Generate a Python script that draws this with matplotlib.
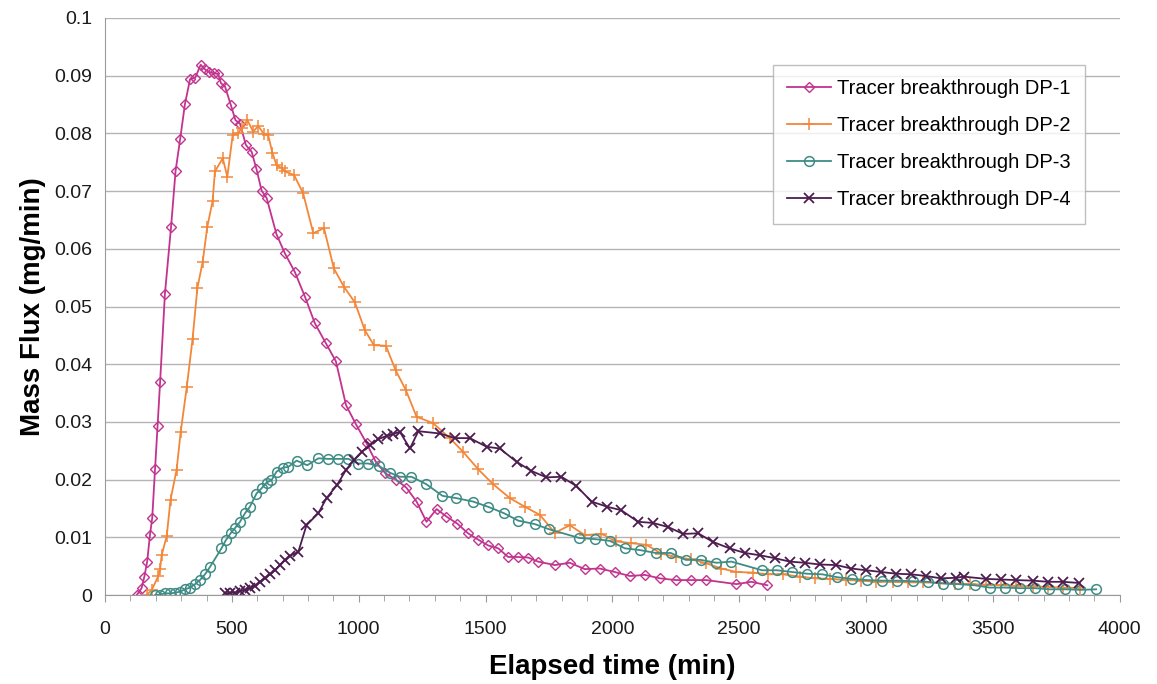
import matplotlib
matplotlib.use("Agg")
import matplotlib.pyplot as plt
from matplotlib.ticker import MultipleLocator, FixedLocator

plt.rcParams['font.family'] = ['Liberation Sans', 'DejaVu Sans']

# DP-1
t1 = [125, 144, 155, 166, 177, 186, 197, 207, 217, 236, 260, 278, 296, 315, 335, 355,
      377, 394, 411, 430, 446, 457, 473, 496, 514, 532, 555, 578, 597, 617, 637, 676,
      709, 748, 788, 827, 871, 910, 950, 989, 1031, 1066, 1105, 1147, 1188, 1228, 1267,
      1307, 1346, 1388, 1431, 1471, 1510, 1550, 1589, 1628, 1668, 1707, 1773, 1832,
      1891, 1950, 2009, 2069, 2128, 2187, 2250, 2311, 2370, 2489, 2548, 2611]
q1 = [0.0, 0.0012, 0.0032, 0.0058, 0.0104, 0.0134, 0.0218, 0.0293, 0.0369, 0.0522,
      0.0637, 0.0735, 0.079, 0.0851, 0.0894, 0.0896, 0.0919, 0.0911, 0.0906, 0.0904,
      0.0903, 0.0887, 0.0881, 0.0849, 0.0823, 0.0817, 0.078, 0.0768, 0.0738, 0.0701,
      0.0688, 0.0625, 0.0592, 0.056, 0.0517, 0.0471, 0.0436, 0.0405, 0.0329, 0.0296,
      0.0263, 0.0232, 0.0211, 0.02, 0.0186, 0.0162, 0.0127, 0.0149, 0.0136, 0.0124,
      0.0107, 0.0096, 0.0086, 0.0081, 0.0066, 0.0066, 0.0065, 0.0058, 0.0052, 0.0056,
      0.0045, 0.0046, 0.004, 0.0033, 0.0035, 0.0029, 0.0026, 0.0026, 0.0026, 0.0019,
      0.0023, 0.0017]

# DP-2
t2 = [164, 184, 210, 217, 223, 243, 258, 282, 298, 322, 345, 364, 385, 403, 424, 433,
      464, 482, 503, 525, 538, 561, 584, 604, 626, 643, 660, 676, 696, 709, 745, 781,
      821, 863, 902, 942, 985, 1024, 1060, 1107, 1145, 1186, 1228, 1293, 1359, 1412,
      1471, 1530, 1596, 1655, 1714, 1773, 1832, 1891, 1957, 2016, 2075, 2134, 2193,
      2252, 2311, 2370, 2430, 2489, 2554, 2613, 2672, 2738, 2797, 2857, 2922, 2981,
      3040, 3106, 3165, 3224, 3290, 3349, 3408, 3474, 3533, 3592, 3658, 3717, 3776, 3842]
q2 = [0.0, 0.0009, 0.0033, 0.0045, 0.0069, 0.0102, 0.0165, 0.0217, 0.0282, 0.036,
      0.0444, 0.0532, 0.0578, 0.0638, 0.0683, 0.0734, 0.0757, 0.0725, 0.0797, 0.08,
      0.0809, 0.0823, 0.0803, 0.0813, 0.0799, 0.0797, 0.0766, 0.0745, 0.074, 0.0734,
      0.0728, 0.0696, 0.0627, 0.0636, 0.0566, 0.0534, 0.0507, 0.0459, 0.0433, 0.0432,
      0.039, 0.0355, 0.0309, 0.0298, 0.0272, 0.0248, 0.0218, 0.0192, 0.0168, 0.0153,
      0.0139, 0.0108, 0.0121, 0.0104, 0.0106, 0.0093, 0.009, 0.0087, 0.0072, 0.0066,
      0.0062, 0.0055, 0.0046, 0.004, 0.0039, 0.0036, 0.0036, 0.0032, 0.0029, 0.0028,
      0.0026, 0.0025, 0.0023, 0.0023, 0.0022, 0.0022, 0.0021, 0.002, 0.0019, 0.0018,
      0.0017, 0.0016, 0.0015, 0.0014, 0.0013, 0.0012]

# DP-3
t3 = [197, 217, 236, 256, 276, 296, 315, 335, 355, 374, 394, 414, 459, 476, 495, 512,
      532, 552, 571, 597, 617, 637, 656, 676, 702, 722, 755, 797, 841, 880, 919, 959,
      998, 1037, 1078, 1123, 1162, 1208, 1267, 1330, 1385, 1451, 1510, 1572, 1629, 1694,
      1751, 1869, 1931, 1990, 2049, 2108, 2171, 2230, 2289, 2348, 2410, 2469, 2590, 2649,
      2708, 2768, 2827, 2886, 2946, 3005, 3064, 3123, 3185, 3244, 3303, 3361, 3428,
      3487, 3546, 3605, 3664, 3723, 3785, 3844, 3907]
q3 = [0.0, 0.0001, 0.0003, 0.0003, 0.0004, 0.0006, 0.001, 0.0013, 0.0019, 0.0026,
      0.0036, 0.0049, 0.0081, 0.0095, 0.0107, 0.0116, 0.0127, 0.0142, 0.0153, 0.0176,
      0.0185, 0.0195, 0.0199, 0.0214, 0.0221, 0.0222, 0.0233, 0.0225, 0.0237, 0.0236,
      0.0236, 0.0236, 0.0228, 0.0228, 0.0224, 0.0212, 0.0205, 0.0205, 0.0192, 0.0172,
      0.0168, 0.0162, 0.0153, 0.0142, 0.0129, 0.0123, 0.0114, 0.0099, 0.0097, 0.0094,
      0.0081, 0.0078, 0.0073, 0.0073, 0.0061, 0.0061, 0.0056, 0.0058, 0.0043, 0.0043,
      0.004, 0.0037, 0.0036, 0.0031, 0.0028, 0.0026, 0.0025, 0.0025, 0.0024, 0.0023,
      0.002, 0.0019, 0.0017, 0.0013, 0.0013, 0.0012, 0.0012, 0.001, 0.001, 0.0009, 0.001]

# DP-4
t4 = [473, 493, 512, 532, 552, 571, 591, 611, 630, 650, 670, 690, 709, 729, 762, 794,
      841, 873, 915, 950, 981, 1011, 1044, 1077, 1110, 1136, 1162, 1202, 1235, 1320,
      1379, 1438, 1504, 1556, 1622, 1681, 1740, 1799, 1858, 1918, 1980, 2035, 2101,
      2160, 2219, 2279, 2338, 2397, 2462, 2522, 2581, 2640, 2699, 2758, 2817, 2883,
      2942, 3001, 3060, 3119, 3178, 3237, 3296, 3355, 3385, 3474, 3533, 3592, 3658,
      3717, 3776, 3839]
q4 = [0.0003, 0.0004, 0.0004, 0.0007, 0.0009, 0.0012, 0.0016, 0.0023, 0.0029, 0.0036,
      0.0043, 0.0052, 0.0061, 0.0068, 0.0075, 0.0121, 0.0142, 0.0168, 0.0191, 0.0217,
      0.0234, 0.0248, 0.026, 0.027, 0.0276, 0.0279, 0.0283, 0.0254, 0.0284, 0.028,
      0.0272, 0.0272, 0.0257, 0.0254, 0.0231, 0.0215, 0.0204, 0.0205, 0.0189, 0.0162,
      0.0153, 0.0147, 0.0127, 0.0125, 0.0118, 0.0106, 0.0107, 0.0092, 0.0081, 0.0073,
      0.0069, 0.0064, 0.0058, 0.0056, 0.0053, 0.0052, 0.0046, 0.0043, 0.004, 0.0037,
      0.0036, 0.0033, 0.0029, 0.003, 0.0032, 0.0028, 0.0027, 0.0026, 0.0025, 0.0023,
      0.0023, 0.0021]

labels = ["Tracer breakthrough DP-1", "Tracer breakthrough DP-2",
          "Tracer breakthrough DP-3", "Tracer breakthrough DP-4"]
y_ticks = [0, 0.01, 0.02, 0.03, 0.04, 0.05, 0.06, 0.07, 0.08, 0.09, 0.1]
y_tick_labels = ["0", "0.01", "0.02", "0.03", "0.04", "0.05", "0.06", "0.07", "0.08",
                 "0.09", "0.1"]
x_ticks = [0, 500, 1000, 1500, 2000, 2500, 3000, 3500, 4000]

fig = plt.figure(figsize=(11.57, 6.84), dpi=100)
ax = fig.add_axes([0.0908, 0.130, 0.877, 0.8437])

ax.plot(t1, q1, color="#c2338f", lw=1.3, marker="D", ms=5.5, mfc="none", mew=1.0,
        label=labels[0])
ax.plot(t2, q2, color="#f2873a", lw=1.3, marker="+", ms=9, mew=1.1, label=labels[1])
ax.plot(t3, q3, color="#3f8c86", lw=1.3, marker="o", ms=7, mfc="none", mew=1.1,
        label=labels[2])
ax.plot(t4, q4, color="#4d1d4f", lw=1.3, marker="x", ms=7, mew=1.3, label=labels[3])

ax.set_xlim(0, 4000)
ax.set_ylim(0, 0.1)
ax.yaxis.set_major_locator(FixedLocator(y_ticks))
ax.set_yticklabels(y_tick_labels)
ax.set_xticks(x_ticks)
ax.xaxis.set_minor_locator(MultipleLocator(100))
ax.grid(axis="y", color="#b4b4b4", lw=1.0)
ax.set_axisbelow(True)
for side in ["top", "right"]:
    ax.spines[side].set_visible(False)
for side in ["left", "bottom"]:
    ax.spines[side].set_color("#9a9a9a")
ax.tick_params(axis="both", which="both", colors="#9a9a9a", labelcolor="#1a1a1a",
               labelsize=14, direction="out")
ax.tick_params(axis="y", length=0, pad=9)
ax.tick_params(axis="x", which="major", length=5, pad=14)
ax.tick_params(axis="x", which="minor", length=4)

ax.set_xlabel("Elapsed time (min)", fontsize=20, fontweight="bold", labelpad=11)
ax.set_ylabel("Mass Flux (mg/min)", fontsize=20, fontweight="bold", labelpad=6)

leg = ax.legend(loc="upper left", bbox_to_anchor=(0.648, 0.936), fontsize=14.5,
                frameon=True, fancybox=False, handlelength=2.2, labelspacing=0.9,
                borderpad=0.7, handletextpad=0.3)
leg.get_frame().set_edgecolor("#b0b0b0")
leg.get_frame().set_linewidth(1.0)

fig.savefig("out.png", dpi=100, facecolor="white")
